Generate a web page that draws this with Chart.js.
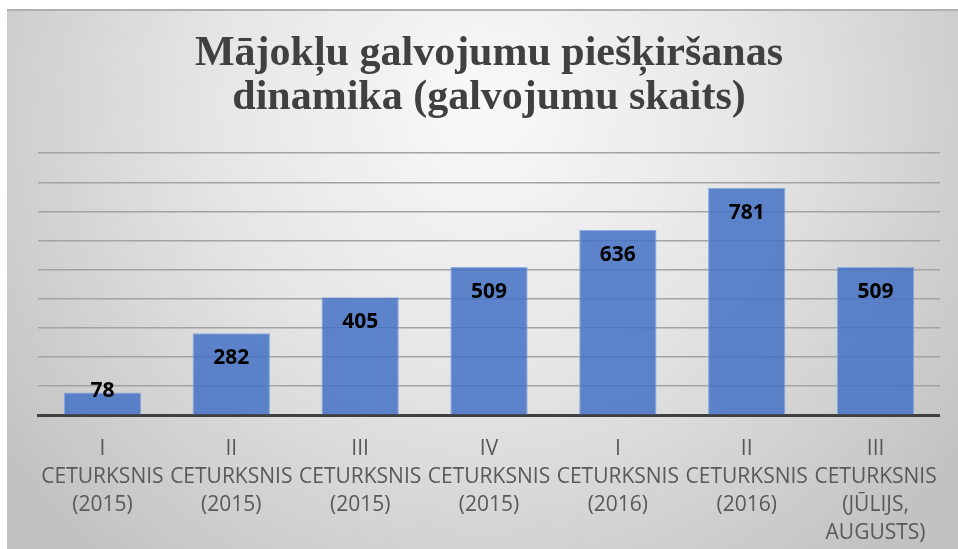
<!DOCTYPE html>
<html>
<head>
<meta charset="utf-8">
<script src="https://cdn.jsdelivr.net/npm/chart.js@4/dist/chart.umd.min.js"></script>
<style>
  html, body { margin: 0; padding: 0; background: #ffffff; }
  #wrap { position: absolute; left: 7px; top: 9px; width: 951px; height: 540px; }
</style>
</head>
<body>
<div id="wrap"><canvas id="chart"></canvas></div>
<script>
const titleLines = ['Mājokļu galvojumu piešķiršanas', 'dinamika (galvojumu skaits)'];
const quarterLabels = [
  ['I', 'CETURKSNIS', '(2015)'],
  ['II', 'CETURKSNIS', '(2015)'],
  ['III', 'CETURKSNIS', '(2015)'],
  ['IV', 'CETURKSNIS', '(2015)'],
  ['I', 'CETURKSNIS', '(2016)'],
  ['II', 'CETURKSNIS', '(2016)'],
  ['III', 'CETURKSNIS', '(JŪLIJS,', 'AUGUSTS)']
];
const guaranteeCounts = [78, 282, 405, 509, 636, 781, 509];
const yMax = 900;
const yStep = 100;

// soft grey radial fill behind the whole chart, with a thin darker top edge
const backdrop = {
  id: 'backdrop',
  beforeDraw(chart) {
    const ctx = chart.ctx;
    const w = chart.width, h = chart.height;
    const g = ctx.createRadialGradient(w * 0.5, h * 0.18, 0, w * 0.5, h * 0.18, w * 0.62);
    g.addColorStop(0, '#f9f9f9');
    g.addColorStop(0.45, '#e6e6e6');
    g.addColorStop(1, '#c2c2c2');
    ctx.save();
    ctx.fillStyle = g;
    ctx.fillRect(0, 0, w, h);
    ctx.fillStyle = '#b0b0b0';
    ctx.fillRect(0, 0, w, 2);
    ctx.restore();
  }
};

// value labels just inside the top of each bar
const barValues = {
  id: 'barValues',
  afterDatasetsDraw(chart) {
    const ctx = chart.ctx;
    const meta = chart.getDatasetMeta(0);
    ctx.save();
    ctx.font = 'bold 21px "Open Sans"';
    ctx.fillStyle = '#000000';
    ctx.textAlign = 'center';
    ctx.textBaseline = 'middle';
    meta.data.forEach((bar, i) => {
      const y = Math.min(bar.y + 25, bar.base - 23);
      ctx.fillText(String(guaranteeCounts[i]), bar.x, y);
    });
    ctx.restore();
  }
};

new Chart(document.getElementById('chart'), {
  type: 'bar',
  data: {
    labels: quarterLabels,
    datasets: [{
      data: guaranteeCounts,
      backgroundColor: 'rgba(68, 114, 196, 0.85)',
      borderColor: 'rgba(130, 165, 225, 0.9)',
      borderWidth: 1,
      categoryPercentage: 1,
      barPercentage: 0.6
    }]
  },
  options: {
    responsive: true,
    maintainAspectRatio: false,
    animation: false,
    layout: { padding: { left: 31, right: 18, bottom: -18, top: 0 } },
    plugins: {
      legend: { display: false },
      tooltip: { enabled: false },
      title: {
        display: true,
        text: titleLines,
        color: '#404040',
        font: { family: '"Liberation Serif"', size: 42, weight: 'bold', lineHeight: 1.05 },
        padding: { top: 23, bottom: 33 }
      }
    },
    scales: {
      x: {
        grid: { display: false, drawTicks: false },
        border: { display: true, color: '#404040', width: 3 },
        ticks: {
          color: '#595959',
          font: { family: '"Open Sans"', size: 21, lineHeight: 1.33 },
          padding: 20,
          maxRotation: 0,
          autoSkip: false
        }
      },
      y: {
        min: 0,
        max: yMax,
        ticks: { display: false, stepSize: yStep },
        border: { display: false },
        grid: { color: '#a3a3a3', lineWidth: 1.6, drawTicks: false }
      }
    }
  },
  plugins: [backdrop, barValues]
});
</script>
</body>
</html>
